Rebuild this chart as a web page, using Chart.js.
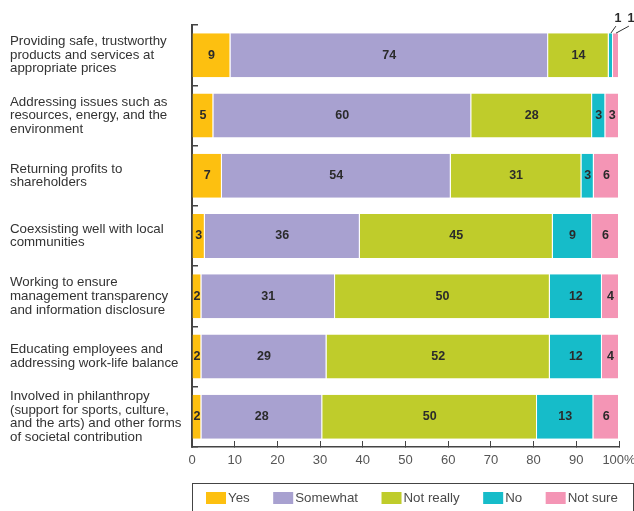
<!DOCTYPE html>
<html>
<head>
<meta charset="utf-8">
<script src="https://cdn.jsdelivr.net/npm/chart.js@4.4.0/dist/chart.umd.min.js"></script>
<style>
  html, body { margin: 0; padding: 0; background: #fff; }
  canvas { display: block; }
</style>
</head>
<body>
<canvas id="myChart" width="634" height="511"></canvas>
<script>
// categories (wrapped the way the labels appear)
const categories = [
    ["Providing safe, trustworthy", "products and services at", "appropriate prices"],
    ["Addressing issues such as", "resources, energy, and the", "environment"],
    ["Returning profits to", "shareholders"],
    ["Coexsisting well with local", "communities"],
    ["Working to ensure", "management transparency", "and information disclosure"],
    ["Educating employees and", "addressing work-life balance"],
    ["Involved in philanthropy", "(support for sports, culture,", "and the arts) and other forms", "of societal contribution"]
];

// % of respondents, bars run to 100 so the shown integers are rounded
const yesVals       = [9,    5,    7,    3,    2.2,  2.2,  2.2];
const somewhatVals  = [74.4, 60.4, 53.6, 36.3, 31.3, 29.3, 28.3];
const notReallyVals = [14.2, 28.3, 30.6, 45.2, 50.3, 52.3, 50.3];
const noVals        = [1.0,  3.1,  2.9,  9.2,  12.2, 12.2, 13.2];
const notSureVals   = [1.4,  3.2,  5.9,  6.3,  4.0,  4.0,  6.0];

const xTicks = [0, 10, 20, 30, 40, 50, 60, 70, 80, 90, 100];

const FONT = '"Liberation Sans", Arial, Helvetica, sans-serif';

// labels inside segments, tiny ones go above with a leader line
const barLabels = {
    id: 'barLabels',
    afterDatasetsDraw(chart) {
        const ctx = chart.ctx;
        ctx.save();
        ctx.font = 'bold 12.5px ' + FONT;
        ctx.fillStyle = '#2b2b2b';
        ctx.strokeStyle = '#333';
        ctx.lineWidth = 1;
        ctx.textAlign = 'center';
        ctx.textBaseline = 'middle';
        chart.data.labels.forEach((lab, i) => {
            let lastOut = null;
            chart.data.datasets.forEach((ds, d) => {
                const bar = chart.getDatasetMeta(d).data[i];
                const txt = String(Math.round(ds.data[i]));
                const w = Math.abs(bar.x - bar.base);
                const cx = (bar.x + bar.base) / 2;
                if (w >= 8) {
                    ctx.fillText(txt, cx, bar.y);
                } else {
                    const top = bar.y - bar.height / 2;
                    const lx = lastOut === null ? cx + 7 : Math.max(cx + 7, lastOut + 13);
                    lastOut = lx;
                    ctx.beginPath();
                    ctx.moveTo(cx, top);
                    ctx.lineTo(lx - 2, top - 7);
                    ctx.stroke();
                    ctx.fillText(txt, lx, top - 15);
                }
            });
        });
        ctx.restore();
    }
};

// boxed legend along the bottom
const boxLegend = {
    id: 'boxLegend',
    afterDraw(chart) {
        const ctx = chart.ctx;
        const left = chart.chartArea.left;
        const top = 483;
        ctx.save();
        ctx.strokeStyle = '#444';
        ctx.lineWidth = 1;
        ctx.strokeRect(Math.round(left) + 0.5, top + 0.5, 633 - Math.round(left), 40);
        ctx.font = '13.3px ' + FONT;
        ctx.textBaseline = 'middle';
        ctx.textAlign = 'left';
        let x = left + 14;
        chart.data.datasets.forEach(ds => {
            ctx.fillStyle = ds.backgroundColor;
            ctx.fillRect(x, top + 9, 20, 12);
            ctx.fillStyle = '#4a4a4a';
            ctx.fillText(ds.label, x + 22, top + 15);
            x += 22 + ctx.measureText(ds.label).width + 23.5;
        });
        ctx.restore();
    }
};

const mkSet = (label, data, color) => ({
    label: label,
    data: data,
    backgroundColor: color,
    borderColor: '#ffffff',
    borderWidth: { top: 0, bottom: 0, left: 0, right: 1 },
    borderSkipped: false,
    barPercentage: 0.73,
    categoryPercentage: 1.0
});

new Chart(document.getElementById('myChart').getContext('2d'), {
    type: 'bar',
    data: {
        labels: categories,
        datasets: [
            mkSet('Yes', yesVals, '#FDC010'),
            mkSet('Somewhat', somewhatVals, '#A8A1D0'),
            mkSet('Not really', notReallyVals, '#BFCC2B'),
            mkSet('No', noVals, '#16BCC9'),
            mkSet('Not sure', notSureVals, '#F495B5')
        ]
    },
    options: {
        indexAxis: 'y',
        responsive: false,
        animation: false,
        devicePixelRatio: 1,
        layout: { padding: { left: 10, right: 15, top: 25, bottom: 40 } },
        plugins: {
            legend: { display: false },
            tooltip: { enabled: false }
        },
        scales: {
            x: {
                stacked: true,
                min: 0,
                max: 100,
                afterBuildTicks: (scale) => { scale.ticks = xTicks.map(v => ({ value: v })); },
                ticks: {
                    padding: 12,
                    color: '#555',
                    font: { family: FONT, size: 13 },
                    maxRotation: 0,
                    callback: (v) => v === 100 ? '100%' : String(v)
                },
                grid: { drawOnChartArea: false, drawTicks: true, tickLength: -6, color: '#444', lineWidth: 1 },
                border: { display: true, color: '#444', width: 1.5 },
                afterFit: (scale) => {
                    scale.height = 24;
                    scale.paddingLeft = 0;
                    scale.paddingRight = 0;
                }
            },
            y: {
                stacked: true,
                offset: true,
                ticks: {
                    crossAlign: 'far',
                    padding: 0,
                    color: '#333',
                    font: { family: FONT, size: 13.3, lineHeight: 1.02 }
                },
                grid: { offset: true, drawOnChartArea: false, drawTicks: true, tickLength: -6, color: '#444', lineWidth: 1.5 },
                border: { display: true, color: '#444', width: 2 },
                afterFit: (scale) => {
                    scale.width = 182;
                    scale.paddingTop = 0;
                    scale.paddingBottom = 0;
                }
            }
        }
    },
    plugins: [barLabels, boxLegend]
});
</script>
</body>
</html>
